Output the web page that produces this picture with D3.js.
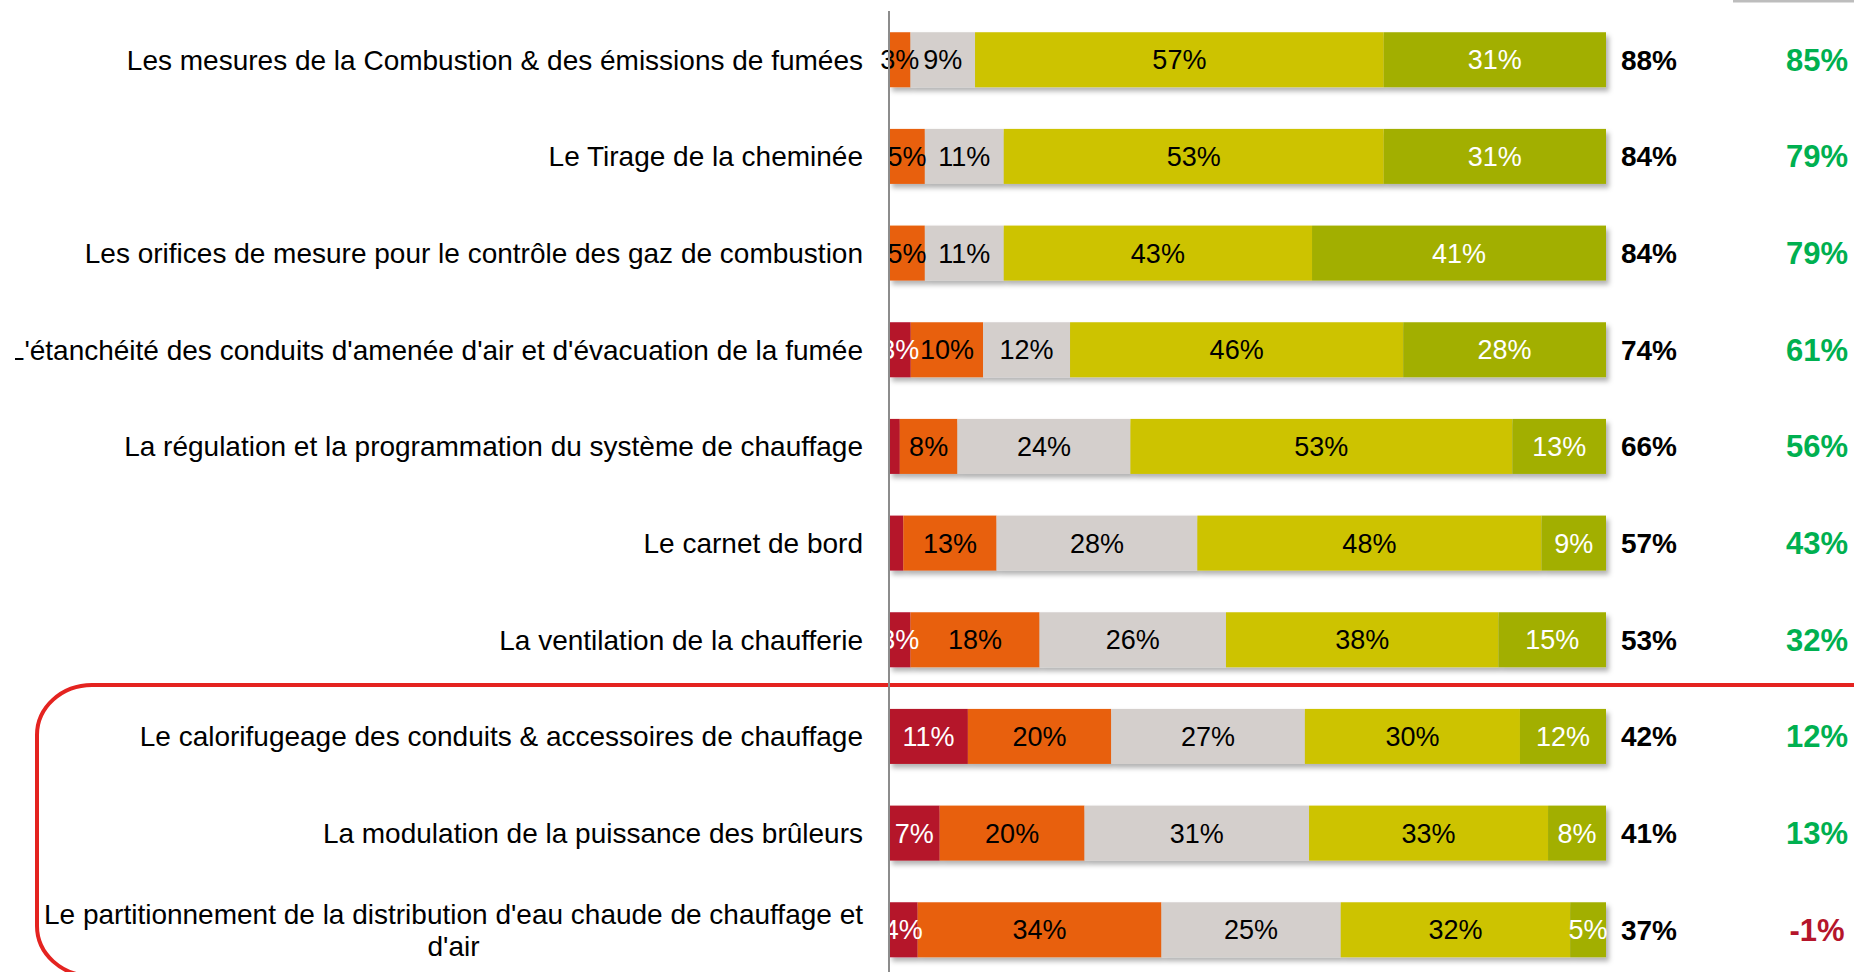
<!DOCTYPE html>
<html>
<head>
<meta charset="utf-8">
<script src="https://cdn.jsdelivr.net/npm/d3@7"></script>
<style>
	body { margin: 0; background: #fff; }
	#chart text { font-family: "Liberation Sans", Arial, sans-serif; }
</style>
</head>
<body>
<div id="chart"></div>
<script>
// categories, top to bottom
let categories = [
	"Les mesures de la Combustion & des émissions de fumées",
	"Le Tirage de la cheminée",
	"Les orifices de mesure pour le contrôle des gaz de combustion",
	"L'étanchéité des conduits d'amenée d'air et d'évacuation de la fumée",
	"La régulation et la programmation du système de chauffage",
	"Le carnet de bord",
	"La ventilation de la chaufferie",
	"Le calorifugeage des conduits & accessoires de chauffage",
	"La modulation de la puissance des brûleurs",
	"Le partitionnement de la distribution d'eau chaude de chauffage et|d'air"
];

// the five answer levels, from worst to best
let s1 = [0, 0, 0, 3, 1.5, 2, 3, 11, 7, 4];
let s2 = [3, 5, 5, 10, 8, 13, 18, 20, 20, 34];
let s3 = [9, 11, 11, 12, 24, 28, 26, 27, 31, 25];
let s4 = [57, 53, 43, 46, 53, 48, 38, 30, 33, 32];
let s5 = [31, 31, 41, 28, 13, 9, 15, 12, 8, 5];

let totals = [88, 84, 84, 74, 66, 57, 53, 42, 41, 37];
let diffs = [85, 79, 79, 61, 56, 43, 32, 12, 13, -1];

function chart() {
	let container = "#chart",
		width = 1854,
		height = 972;

	let series = [s1, s2, s3, s4, s5];
	let colors = ["#B5152B", "#E8600F", "#D4CFCC", "#CDC300", "#A2AF00"];
	let text_colors = ["#fff", "#000", "#000", "#000", "#fff"];

	let svg = d3.select(container)
		.append("svg")
		.attr("width", width)
		.attr("height", height);

	let defs = svg.append("defs");
	defs.append("filter")
		.attr("id", "shadow")
		.attr("x", "-5%").attr("y", "-20%")
		.attr("width", "110%").attr("height", "150%")
		.append("feDropShadow")
		.attr("dx", 3).attr("dy", 4)
		.attr("stdDeviation", 2.5)
		.attr("flood-color", "#000")
		.attr("flood-opacity", 0.3);
	defs.append("clipPath")
		.attr("id", "label_clip")
		.append("rect")
		.attr("x", 15).attr("y", 0)
		.attr("width", 900).attr("height", height);

	let y = d3.scaleBand()
		.domain(categories)
		.range([11.4, 978.1])
		.paddingInner(0.431)
		.paddingOuter(0.2155);

	let x = d3.scaleLinear()
		.domain([0, 100])
		.range([889, 1606]);

	let rows = categories.map(function(c, i) {
		let vals = series.map(function(s) { return s[i] });
		let sum = d3.sum(vals);
		let acc = 0;
		let segs = vals.map(function(v, k) {
			let seg = {k: k, v: v, x0: acc / sum * 100, x1: (acc + v) / sum * 100};
			acc += v;
			return seg;
		});
		return {name: c, i: i, segs: segs};
	});

	// red rounded box around the last three rows
	svg.append("rect")
		.attr("x", 37)
		.attr("y", 685)
		.attr("width", 1900)
		.attr("height", 291)
		.attr("rx", 55)
		.attr("ry", 50)
		.attr("fill", "none")
		.attr("stroke", "#E42320")
		.attr("stroke-width", 4);

	// grey line top right
	svg.append("line")
		.attr("x1", 1733).attr("x2", width)
		.attr("y1", 1).attr("y2", 1)
		.attr("stroke", "#BDBDBD")
		.attr("stroke-width", 3);

	let row = svg.append("g")
		.attr("class", "rows")
		.selectAll("g")
		.data(rows)
		.enter()
		.append("g")
		.attr("transform", function(d) {
			return "translate(0," + y(d.name) + ")"
		});

	row.append("g")
		.attr("filter", "url(#shadow)")
		.selectAll("rect")
		.data(function(d) { return d.segs.filter(function(s) { return s.v > 0 }) })
		.enter()
		.append("rect")
		.attr("x", function(d) { return x(d.x0) })
		.attr("y", 0)
		.attr("width", function(d) { return x(d.x1) - x(d.x0) })
		.attr("height", y.bandwidth())
		.attr("fill", function(d) { return colors[d.k] });

	row.append("g")
		.selectAll("text")
		.data(function(d) { return d.segs.filter(function(s) { return s.v >= 3 }) })
		.enter()
		.append("text")
		.attr("x", function(d) { return (x(d.x0) + x(d.x1)) / 2 })
		.attr("y", y.bandwidth() / 2)
		.attr("dy", "0.35em")
		.attr("text-anchor", "middle")
		.attr("font-size", 27)
		.attr("fill", function(d) { return text_colors[d.k] })
		.text(function(d) { return d.v + "%" });

	// category labels
	let labels = svg.append("g")
		.attr("clip-path", "url(#label_clip)")
		.selectAll("text")
		.data(rows)
		.enter()
		.append("text")
		.attr("text-anchor", "end")
		.attr("font-size", 28)
		.attr("fill", "#000")
		.attr("x", 863)
		.attr("y", function(d) { return y(d.name) + y.bandwidth() / 2 });

	labels.each(function(d) {
		let parts = d.name.split("|");
		let t = d3.select(this);
		if (parts.length == 1) {
			t.attr("dy", "0.35em").text(parts[0]);
		} else {
			let first = t.append("tspan")
				.attr("x", 863)
				.attr("dy", -6)
				.text(parts[0]);
			let w = first.node().getComputedTextLength();
			t.append("tspan")
				.attr("x", 863 - w / 2)
				.attr("dy", 32)
				.attr("text-anchor", "middle")
				.text(parts[1]);
		}
	});

	// axis line
	svg.append("line")
		.attr("x1", 889).attr("x2", 889)
		.attr("y1", 11).attr("y2", height)
		.attr("stroke", "#8C8C8C")
		.attr("stroke-width", 2);

	row.append("text")
		.attr("x", 1649)
		.attr("y", y.bandwidth() / 2)
		.attr("dy", "0.35em")
		.attr("text-anchor", "middle")
		.attr("font-size", 28)
		.attr("font-weight", "bold")
		.attr("fill", "#000")
		.text(function(d) { return totals[d.i] + "%" });

	row.append("text")
		.attr("x", 1817)
		.attr("y", y.bandwidth() / 2)
		.attr("dy", "0.35em")
		.attr("text-anchor", "middle")
		.attr("font-size", 31)
		.attr("font-weight", "bold")
		.attr("fill", function(d) { return diffs[d.i] < 0 ? "#B5152B" : "#00B050" })
		.text(function(d) { return diffs[d.i] + "%" });
}

chart();
</script>
</body>
</html>
